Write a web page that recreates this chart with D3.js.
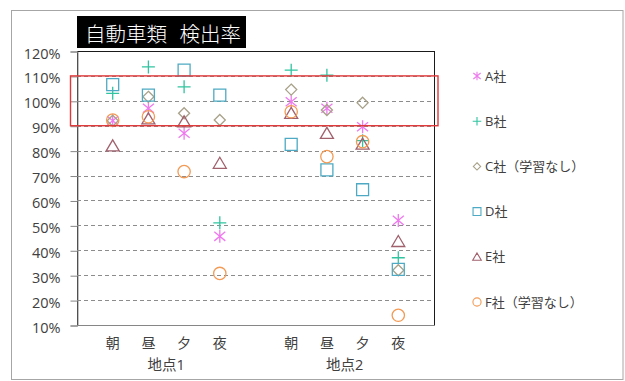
<!DOCTYPE html>
<html>
<head>
<meta charset="utf-8">
<script src="https://cdn.jsdelivr.net/npm/d3@7"></script>
<style>
  html, body { margin: 0; padding: 0; background: #fff; }
  svg { display: block; }
  text { font-family: "Open Sans", "Noto Sans CJK JP", sans-serif; }
</style>
</head>
<body>
<svg id="chart" width="625" height="381"></svg>
<script>
// Detection rate per company, by site and time of day
const titleWords = ["自動車類", "検出率"];
const sites = ["地点1", "地点2"];
const timesOfDay = ["朝", "昼", "夕", "夜"];
const yTicks = [10, 20, 30, 40, 50, 60, 70, 80, 90, 100, 110, 120];
const highlightBand = [90, 110];

const seriesNames = ["A社", "B社", "C社（学習なし）", "D社", "E社", "F社（学習なし）"];
// values in %, order: 地点1 朝,昼,夕,夜 then 地点2 朝,昼,夕,夜
const aValues = [92, 97, 87, 45.6, 99.6, 97, 89.6, 52];
const bValues = [103, 113.6, 105.6, 51, 112.3, 110.3, 84, 37];
const cValues = [92, 101.6, 95, 92.3, 104.5, 96.3, 99.2, 32];
const dValues = [106.5, 102.3, 112.3, 102.3, 82.5, 72.3, 64.3, 32.3];
const eValues = [82, 92.8, 91.6, 75, 95, 87, 82.7, 43.6];
const fValues = [92.3, 93.6, 71.6, 30.7, 95.6, 77.6, 83.6, 13.9];

const seriesValues = [aValues, bValues, cValues, dValues, eValues, fValues];
const seriesColors = ["#ee7aee", "#30c4a0", "#a8a189", "#4eaac4", "#a0616d", "#f39a55"];
const seriesShapes = ["asterisk", "plus", "diamond", "square", "triangle", "circle"];

// marker path builders (s = half-size)
function markerPath(shape, s) {
  switch (shape) {
    case "asterisk":
      return `M0,${-s}L0,${s}M${-s*0.85},${-s*0.7}L${s*0.85},${s*0.7}M${-s*0.85},${s*0.7}L${s*0.85},${-s*0.7}`;
    case "plus":
      return `M0,${-s}L0,${s}M${-s},0L${s},0`;
    case "diamond":
      return `M0,${-s*0.85}L${s*0.85},0L0,${s*0.85}L${-s*0.85},0Z`;
    case "square":
      return `M${-s*0.92},${-s*0.92}H${s*0.92}V${s*0.92}H${-s*0.92}Z`;
    case "triangle":
      return `M0,${-s*0.9}L${s},${s*0.8}L${-s},${s*0.8}Z`;
    case "circle": {
      const p = d3.path();
      p.moveTo(s * 0.95, 0);
      p.arc(0, 0, s * 0.95, 0, 2 * Math.PI);
      p.closePath();
      return p.toString();
    }
  }
}

const svg = d3.select("#chart");

// outer chart frame
svg.append("rect")
  .attr("x", 11.5).attr("y", 10.5)
  .attr("width", 611.5).attr("height", 369)
  .attr("fill", "#fff").attr("stroke", "#a6a6a6").attr("stroke-width", 1);

const plot = { left: 77, right: 434, top: 51, bottom: 325 };

const x = d3.scaleLinear().domain([0, 10]).range([plot.left, plot.right]);
const y = d3.scaleLinear().domain([10, 120]).range([plot.bottom, plot.top]);

// slot on the x axis for a given site and time of day
const slot = (si, ti) => si * 5 + ti + 1;

// plot area border
svg.append("rect")
  .attr("x", plot.left + 0.5).attr("y", plot.top + 0.5)
  .attr("width", plot.right - plot.left).attr("height", plot.bottom - plot.top)
  .attr("fill", "none").attr("stroke", "#1a1a1a").attr("stroke-width", 1);

// dashed horizontal gridlines
svg.append("g").selectAll("line")
  .data(yTicks.filter(t => t > 10 && t < 120))
  .join("line")
  .attr("x1", plot.left).attr("x2", plot.right)
  .attr("y1", d => Math.round(y(d)) + 0.5).attr("y2", d => Math.round(y(d)) + 0.5)
  .attr("stroke", "#8c8c8c").attr("stroke-width", 1)
  .attr("stroke-dasharray", "4,3");

// y axis
const yAxis = d3.axisLeft(y).tickValues(yTicks).tickSize(7).tickPadding(10)
  .tickFormat(d => d + "%");
const yg = svg.append("g").attr("transform", `translate(${plot.left + 0.5},0.5)`).call(yAxis);
yg.select(".domain").attr("stroke", "#868686");
yg.selectAll(".tick line").attr("stroke", "#868686");
yg.selectAll(".tick text")
  .attr("fill", "#404040").attr("font-size", 14.5).attr("dy", "0.45em")
  .style("font-family", "'Open Sans', sans-serif");

// x axis baseline
svg.append("line")
  .attr("x1", plot.left).attr("x2", plot.right + 1)
  .attr("y1", plot.bottom + 0.5).attr("y2", plot.bottom + 0.5)
  .attr("stroke", "#868686");

// category labels
const xl = svg.append("g");
sites.forEach((site, si) => {
  timesOfDay.forEach((t, ti) => {
    xl.append("text")
      .attr("x", x(slot(si, ti))).attr("y", 348)
      .attr("text-anchor", "middle").attr("font-size", 14)
      .attr("fill", "#404040").text(t);
  });
  xl.append("text")
    .attr("x", (x(slot(si, 0)) + x(slot(si, 3))) / 2).attr("y", 370)
    .attr("text-anchor", "middle").attr("font-size", 14.5)
    .attr("fill", "#404040").text(site);
});

// markers
seriesValues.forEach((vals, k) => {
  const g = svg.append("g");
  vals.forEach((v, i) => {
    const si = Math.floor(i / timesOfDay.length), ti = i % timesOfDay.length;
    g.append("path")
      .attr("transform", `translate(${x(slot(si, ti))},${y(v)})`)
      .attr("d", markerPath(seriesShapes[k], 6.5))
      .attr("fill", "none").attr("stroke", seriesColors[k]).attr("stroke-width", 1.3);
  });
});

// highlight band 90%–110%
svg.append("rect")
  .attr("x", plot.left - 6.5).attr("y", y(highlightBand[1]))
  .attr("width", plot.right - plot.left + 10.5)
  .attr("height", y(highlightBand[0]) - y(highlightBand[1]))
  .attr("fill", "none").attr("stroke", "#e0383a").attr("stroke-width", 1.4);

// title
const tg = svg.append("g");
tg.append("rect").attr("x", 77).attr("y", 16).attr("width", 169).attr("height", 32).attr("fill", "#000");
tg.append("text")
  .attr("x", 85).attr("y", 42).attr("font-size", 20.5)
  .attr("fill", "#fff").attr("font-weight", 300)
  .style("font-family", "'Noto Sans CJK JP', sans-serif")
  .text(titleWords[0]);
tg.append("text")
  .attr("x", 241).attr("y", 42).attr("font-size", 20.5)
  .attr("text-anchor", "end")
  .attr("fill", "#fff").attr("font-weight", 300)
  .style("font-family", "'Noto Sans CJK JP', sans-serif")
  .text(titleWords[1]);

// legend
const lg = svg.append("g");
seriesNames.forEach((name, k) => {
  const ly = 76 + k * 45.2;
  lg.append("path")
    .attr("transform", `translate(477,${ly})`)
    .attr("d", markerPath(seriesShapes[k], 4.3))
    .attr("fill", "none").attr("stroke", seriesColors[k]).attr("stroke-width", 1.1);
  lg.append("text")
    .attr("x", 485).attr("y", ly).attr("dy", "0.36em")
    .attr("font-size", 13).attr("fill", "#404040").text(name);
});
</script>
</body>
</html>
